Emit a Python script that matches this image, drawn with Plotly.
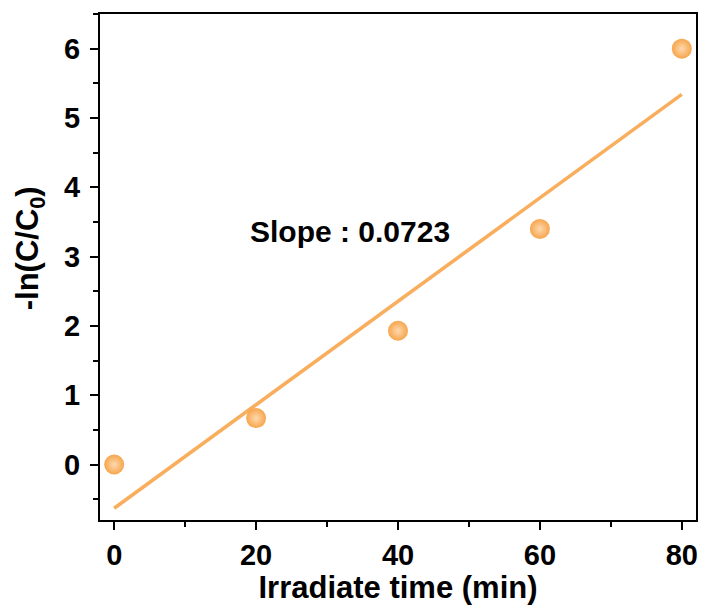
import plotly.graph_objects as go

# Data
time_min = [0, 20, 40, 60, 80]
neg_ln_c = [0.0, 0.67, 1.93, 3.40, 6.00]
fit_x = [0, 80]
fit_y = [-0.63, 5.34]
slope_label = "Slope : 0.0723"
x_ticks = [0, 20, 40, 60, 80]
y_ticks = [0, 1, 2, 3, 4, 5, 6]

FONT = "Liberation Sans, Arial, sans-serif"
ORANGE = "#F7A54C"

fig = go.Figure()
fig.add_trace(go.Scatter(
    x=fit_x, y=fit_y, mode="lines",
    line=dict(color="#F9AE5E", width=3.6),
    showlegend=False, hoverinfo="skip"))
fig.add_trace(go.Scatter(
    x=time_min, y=neg_ln_c, mode="markers",
    marker=dict(size=20, color=ORANGE,
                gradient=dict(type="radial", color="#FDD9AE"),
                line=dict(width=0)),
    showlegend=False))

fig.add_annotation(x=33.2, y=3.36, text="<b>" + slope_label + "</b>",
                   showarrow=False, font=dict(family=FONT, size=30, color="black"))

# Y-axis title as an annotation (slightly above centre, as in the reference)
fig.add_annotation(xref="paper", yref="paper", x=-0.117, y=0.5375,
                   text="<b>-ln(C/C<sub>0</sub>)</b>", textangle=-90,
                   showarrow=False, xanchor="center", yanchor="middle",
                   font=dict(family=FONT, size=31, color="black"))

axis_common = dict(
    showline=True, linecolor="black", linewidth=2, mirror=True,
    ticks="outside", ticklen=8, tickwidth=2, tickcolor="black",
    showgrid=False, zeroline=False,
    tickfont=dict(family=FONT, size=29, color="black", weight="bold"),
)

fig.update_layout(
    width=705, height=605,
    margin=dict(l=100, r=7, t=14, b=85),
    plot_bgcolor="white", paper_bgcolor="white",
    xaxis=dict(range=[-2, 82], tickvals=x_ticks,
               minor=dict(ticks="outside", ticklen=5, tickwidth=2, tickcolor="black", dtick=10, tick0=0),
               title=dict(text="<b>Irradiate time (min)</b>", font=dict(family=FONT, size=31, color="black"), standoff=0),
               **axis_common),
    yaxis=dict(range=[-0.8, 6.5], tickvals=y_ticks,
               minor=dict(ticks="outside", ticklen=5, tickwidth=2, tickcolor="black", dtick=0.5, tick0=0),
               ticklabelstandoff=4,
               **axis_common),
)

fig.write_html("out.html")
